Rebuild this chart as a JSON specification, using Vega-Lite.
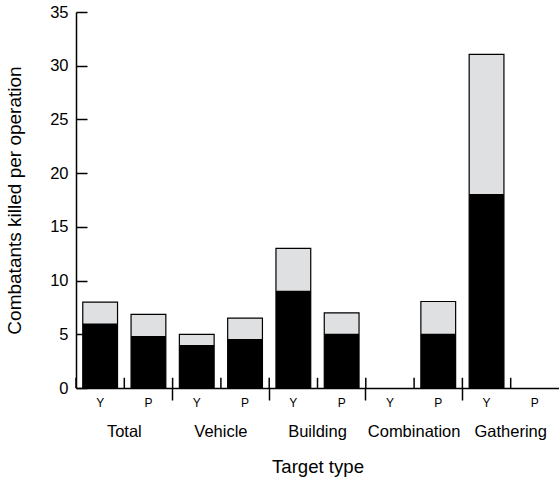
{
  "$schema": "https://vega.github.io/schema/vega-lite/v6.json",
  "width": 483,
  "height": 376,
  "autosize": {"type": "none"},
  "padding": {"left": 76, "top": 12, "right": 0, "bottom": 92},
  "config": {
    "view": {"stroke": null},
    "font": "Liberation Sans",
    "axis": {"domainColor": "black", "tickColor": "black", "labelColor": "black", "titleColor": "black", "titleFontWeight": "normal", "grid": false, "domainWidth": 1.5, "tickWidth": 1.5}
  },
  "data": {
    "values": [
      {"key": "Total|Y", "group": "Total", "sub": "Y", "total": 8, "killed": 6},
      {"key": "Total|P", "group": "Total", "sub": "P", "total": 6.85, "killed": 4.85},
      {"key": "Vehicle|Y", "group": "Vehicle", "sub": "Y", "total": 5, "killed": 4},
      {"key": "Vehicle|P", "group": "Vehicle", "sub": "P", "total": 6.5, "killed": 4.55},
      {"key": "Building|Y", "group": "Building", "sub": "Y", "total": 13, "killed": 9.05},
      {"key": "Building|P", "group": "Building", "sub": "P", "total": 7, "killed": 5.05},
      {"key": "Combination|Y", "group": "Combination", "sub": "Y", "total": null, "killed": null},
      {"key": "Combination|P", "group": "Combination", "sub": "P", "total": 8.05, "killed": 5.05},
      {"key": "Gathering|Y", "group": "Gathering", "sub": "Y", "total": 31.05, "killed": 18.05},
      {"key": "Gathering|P", "group": "Gathering", "sub": "P", "total": null, "killed": null}
    ]
  },
  "resolve": {"axis": {"x": "independent"}},
  "layer": [
    {
      "mark": {"type": "bar", "fill": "#dfe0e2", "stroke": "black", "strokeWidth": 1.2, "width": {"band": 0.72}},
      "encoding": {
        "x": {
          "field": "key", "type": "nominal",
          "scale": {"type": "band", "domain": ["Total|Y","Total|P","Vehicle|Y","Vehicle|P","Building|Y","Building|P","Combination|Y","Combination|P","Gathering|Y","Gathering|P"], "paddingInner": 0, "paddingOuter": 0},
          "axis": {"orient": "bottom", "title": null, "ticks": false, "domain": true, "labelAngle": 0, "labelExpr": "split(datum.value, '|')[1]", "labelFontSize": 12, "labelPadding": 9}
        },
        "y": {
          "field": "total", "type": "quantitative",
          "scale": {"domain": [0, 35], "nice": false, "zero": true},
          "axis": {"title": "Combatants killed per operation", "values": [0,5,10,15,20,25,30,35], "tickSize": -11, "labelFontSize": 16.5, "labelPadding": 19, "titleFontSize": 19, "titlePadding": 25}
        }
      }
    },
    {
      "mark": {"type": "bar", "fill": "black", "width": {"band": 0.72}},
      "encoding": {
        "x": {
          "field": "key", "type": "nominal",
          "scale": {"type": "band", "domain": ["Total|Y","Total|P","Vehicle|Y","Vehicle|P","Building|Y","Building|P","Combination|Y","Combination|P","Gathering|Y","Gathering|P"], "paddingInner": 0, "paddingOuter": 0},
          "axis": {"orient": "bottom", "title": "Target type", "titleFontSize": 18.6, "titlePadding": 17.5, "ticks": false, "domain": false, "labelAngle": 0, "values": ["Total|P","Vehicle|P","Building|P","Combination|P","Gathering|P"], "labelExpr": "split(datum.value, '|')[0]", "labelOffset": -24.15, "labelFontSize": 16.5, "labelPadding": 35}
        },
        "y": {
          "field": "killed", "type": "quantitative",
          "scale": {"domain": [0, 35], "nice": false, "zero": true},
          "axis": {"title": "Combatants killed per operation", "values": [0,5,10,15,20,25,30,35], "tickSize": -11, "labelFontSize": 16.5, "labelPadding": 19, "titleFontSize": 19, "titlePadding": 25}
        }
      }
    },
    {
      "mark": {"type": "rule", "stroke": "black", "strokeWidth": 1.5},
      "encoding": {
        "x": {
          "field": "key", "type": "nominal", "bandPosition": 0,
          "scale": {"type": "band", "domain": ["Total|Y","Total|P","Vehicle|Y","Vehicle|P","Building|Y","Building|P","Combination|Y","Combination|P","Gathering|Y","Gathering|P"], "paddingInner": 0, "paddingOuter": 0},
          "axis": {"orient": "bottom", "title": null, "labels": false, "domain": false, "ticks": true, "tickSize": 12, "bandPosition": 0, "values": ["Vehicle|Y","Building|Y","Combination|Y","Gathering|Y"]}
        },
        "y": {"datum": 0, "type": "quantitative", "scale": {"domain": [0, 35], "nice": false, "zero": true}, "axis": {"title": "Combatants killed per operation", "values": [0,5,10,15,20,25,30,35], "tickSize": -11, "labelFontSize": 16.5, "labelPadding": 19, "titleFontSize": 19, "titlePadding": 25}},
        "y2": {"datum": 0.95}
      }
    }
  ]
}
